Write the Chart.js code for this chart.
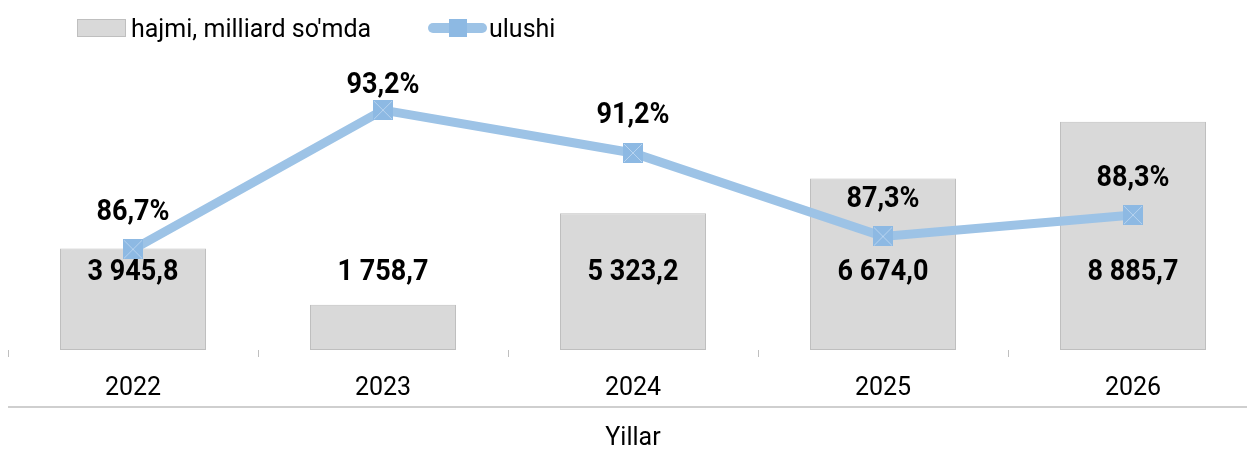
<!DOCTYPE html>
<html>
<head>
<meta charset="utf-8">
<script src="https://cdn.jsdelivr.net/npm/chart.js@4"></script>
<style>
  body { margin: 0; overflow: hidden; background: #fff; }
  #wrap { position: relative; width: 1262px; height: 450px; }
  .lg { position: absolute; font: 25px Roboto, sans-serif; line-height: 25px; color: #000; white-space: nowrap; }
  .lgBox { position: absolute; left: 77px; top: 19px; width: 47px; height: 16px; background: #d9d9d9; border: 1px solid #bfbfbf; }
  .lgLine { position: absolute; left: 428px; top: 23px; width: 59px; height: 10px; border-radius: 5px; background: #9dc3e6; }
  .lgMark { position: absolute; left: 449px; top: 19px; width: 18px; height: 18px; background: #8db9e3; }
</style>
</head>
<body>
<div id="wrap">
  <canvas id="chart"></canvas>
  <div class="lgBox"></div>
  <div class="lg" style="left:131px; top:16px;">hajmi, milliard so'mda</div>
  <div class="lgLine"></div>
  <div class="lgMark"></div>
  <div class="lg" style="left:489px; top:16px;">ulushi</div>
</div>
<script>
// data
const years = ['2022', '2023', '2024', '2025', '2026'];
const volume = [3945.8, 1758.7, 5323.2, 6674.0, 8885.7];   // hajmi, milliard so'mda
const share = [86.7, 93.2, 91.2, 87.3, 88.3];              // ulushi, %

const fmtVolume = v => v.toFixed(1).replace('.', ',').replace(/\B(?=(\d{3})+(?!\d))/g, ' ');
const fmtShare = v => v.toFixed(1).replace('.', ',') + '%';

// square marker with a light cross
const mark = document.createElement('canvas');
mark.width = 20; mark.height = 20;
const mctx = mark.getContext('2d');
mctx.fillStyle = '#8db9e3';
mctx.fillRect(0, 0, 20, 20);
mctx.strokeStyle = '#b7d3ef';
mctx.lineWidth = 1;
mctx.beginPath();
mctx.moveTo(1, 1); mctx.lineTo(19, 19);
mctx.moveTo(19, 1); mctx.lineTo(1, 19);
mctx.stroke();

// narrow bold text, like the condensed face of the original
function narrowText(ctx, text, x, y) {
  ctx.save();
  ctx.translate(x, y);
  ctx.scale(0.9, 1);
  ctx.fillText(text, 0, 0);
  ctx.restore();
}

const valueLabels = {
  id: 'valueLabels',
  afterDatasetsDraw(chart) {
    const ctx = chart.ctx;
    ctx.save();
    ctx.fillStyle = '#000';
    ctx.font = 'bold 30px Roboto';
    ctx.textAlign = 'center';
    ctx.textBaseline = 'middle';
    const bars = chart.getDatasetMeta(1).data;
    const yb = chart.scales.y.getPixelForValue(3000);
    bars.forEach((b, i) => narrowText(ctx, fmtVolume(volume[i]), b.x, yb));
    const pts = chart.getDatasetMeta(0).data;
    pts.forEach((p, i) => narrowText(ctx, fmtShare(share[i]), p.x, Math.max(p.y - 37, 85)));
    ctx.restore();
  },
  afterDraw(chart) {
    const ctx = chart.ctx;
    const x = chart.scales.x;
    ctx.save();
    ctx.strokeStyle = '#bfbfbf';
    ctx.lineWidth = 1.5;
    ctx.beginPath();
    ctx.moveTo(x.left, x.top + 57);
    ctx.lineTo(chart.width, x.top + 57);
    ctx.stroke();
    ctx.restore();
  }
};

new Chart(document.getElementById('chart'), {
  data: {
    labels: years,
    datasets: [{
      type: 'line',
      label: 'ulushi',
      data: share,
      yAxisID: 'y1',
      borderColor: '#9dc3e6',
      borderWidth: 9,
      pointStyle: mark,
      pointRadius: 10,
      order: 0
    }, {
      type: 'bar',
      label: "hajmi, milliard so'mda",
      data: volume,
      yAxisID: 'y',
      backgroundColor: '#d9d9d9',
      borderColor: '#bfbfbf',
      borderWidth: 1,
      borderSkipped: false,
      barPercentage: 0.584,
      categoryPercentage: 1,
      order: 1
    }]
  },
  options: {
    responsive: true,
    maintainAspectRatio: false,
    animation: false,
    layout: { autoPadding: false, padding: { top: 93, left: 8, right: 4, bottom: 0 } },
    plugins: { legend: { display: false }, tooltip: { enabled: false } },
    scales: {
      x: {
        grid: { offset: true, drawOnChartArea: false, color: '#bfbfbf', tickLength: 7 },
        border: { display: false },
        ticks: { color: '#000', font: { family: 'Roboto', size: 25 }, padding: 17 },
        title: { display: true, text: 'Yillar', color: '#000', font: { family: 'Roboto', size: 25 }, padding: { top: 20, bottom: -4 } },
        afterFit: s => { s.height = 100; }
      },
      y: { display: false, min: 0, max: 10000 },
      y1: { display: false, min: 82, max: 94 }
    }
  },
  plugins: [valueLabels]
});
</script>
</body>
</html>
